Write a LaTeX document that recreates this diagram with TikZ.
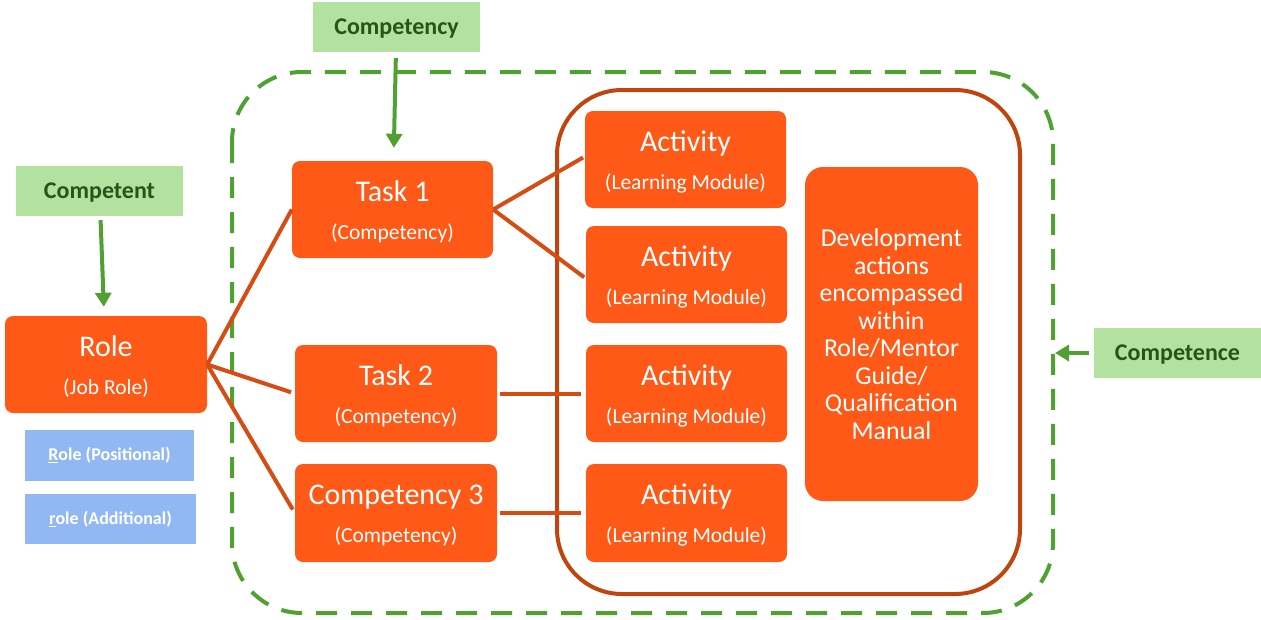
\documentclass[tikz,border=0pt]{standalone}
\usepackage{fontspec}
\setmainfont{Carlito}
\usepackage{tikz}
\usetikzlibrary{positioning}
\usetikzlibrary{arrows.meta}
\usepackage{xcolor}
\definecolor{boxorange}{RGB}{254,89,22}
\definecolor{linkorange}{RGB}{213,77,20}
\definecolor{framebrown}{RGB}{192,68,14}
\definecolor{framegreen}{RGB}{80,161,50}
\definecolor{labelgreen}{RGB}{179,225,159}
\definecolor{textgreen}{RGB}{40,84,26}
\definecolor{labelblue}{RGB}{146,184,243}
\newcommand{\twoline}[2]{{\fontsize{30}{38}\selectfont\rule{0pt}{25pt}#1}\\#2}

\begin{document}
\begin{tikzpicture}[x=1pt,y=-1pt,
  orangebox/.style={fill=boxorange,text=white,rounded corners=8pt,inner sep=0pt,
    align=center,font=\fontsize{21.5}{38}\selectfont},
  greenlabel/.style={fill=labelgreen,text=textgreen,inner sep=0pt,text depth=0pt,
    minimum width=167pt,minimum height=50pt,font=\fontsize{24}{28}\selectfont\bfseries},
  bluelabel/.style={fill=labelblue,text=white,inner sep=0pt,
    minimum height=51pt,font=\fontsize{18}{21}\selectfont\bfseries},
  link/.style={draw=linkorange,line width=4pt},
  greenarrow/.style={draw=framegreen,line width=4pt,-{Triangle[width=16pt,length=14pt]}}]
\useasboundingbox (0,0) rectangle (1261,619);
\draw[framegreen,line width=4pt,dash pattern=on 21pt off 14pt,rounded corners=70pt] (232,72) rectangle (1053,613);
\draw[framebrown,line width=4pt,rounded corners=65pt] (557,90) rectangle (1020,594);
\node[orangebox,minimum width=202pt,minimum height=97pt] (role) at (106,364.5) {\twoline{Role}{(Job Role)}};
\node[bluelabel,minimum width=169pt] (positional) at (109.5,455.5) {\underline{R}ole (Positional)};
\node[bluelabel,minimum width=171pt,minimum height=50pt] (additional) at (110.5,519) {\underline{r}ole (Additional)};
\node[orangebox,minimum width=201pt,minimum height=97pt] (task1) at (392.5,209.5) {\twoline{Task 1}{(Competency)}};
\node[orangebox,minimum width=202pt,minimum height=97pt] (task2) at (396,393.5) {\twoline{Task 2}{(Competency)}};
\node[orangebox,minimum width=202pt,minimum height=98pt] (task3) at (396,513) {\twoline{Competency 3}{(Competency)}};
\node[orangebox,minimum width=201pt,minimum height=97pt] (act1) at (685.5,159.5) {\twoline{Activity}{(Learning Module)}};
\node[orangebox,minimum width=201pt,minimum height=97pt] (act2) at (686.5,274.5) {\twoline{Activity}{(Learning Module)}};
\node[orangebox,minimum width=201pt,minimum height=97pt] (act3) at (686.5,393.5) {\twoline{Activity}{(Learning Module)}};
\node[orangebox,minimum width=201pt,minimum height=98pt] (act4) at (686.5,513) {\twoline{Activity}{(Learning Module)}};
\node[orangebox,rounded corners=18pt,minimum width=173pt,minimum height=334pt,
  font=\fontsize{25.8}{27.5}\selectfont] (develop) at (891.5,334)
  {Development\\actions\\encompassed\\within\\Role/Mentor\\Guide/\\Qualification\\Manual};
\node[greenlabel] (competent) at (99.5,191) {Competent};
\node[greenlabel] (competency) at (396.5,27) {Competency};
\node[greenlabel,minimum width=168pt] (competence) at (1177.5,353) {Competence};
\coordinate (frame-e) at (1053,353);
\draw[link] (role.east) -- (task1.west);
\draw[link,shorten >=4pt] (role.east) -- (task2.west);
\draw[link,shorten >=4pt] (role.east) -- (task3.west);
\draw[link,shorten >=2pt] (task1.east) -- ([yshift=3pt]act1.west);
\draw[link,shorten >=2pt] (task1.east) -- ([yshift=-4pt]act2.west);
\draw[link,shorten <=3pt,shorten >=5pt] (task2.east) -- (act3.west);
\draw[link,shorten <=3pt,shorten >=5pt] (task3.east) -- (act4.west);
\draw[greenarrow,shorten <=4pt,shorten >=9pt] (competent) -- (role);
\draw[greenarrow,shorten <=6pt,shorten >=13pt] (competency) -- (task1);
\draw[greenarrow,shorten <=4pt,shorten >=2pt] (competence) -- (frame-e);
\end{tikzpicture}
\end{document}
